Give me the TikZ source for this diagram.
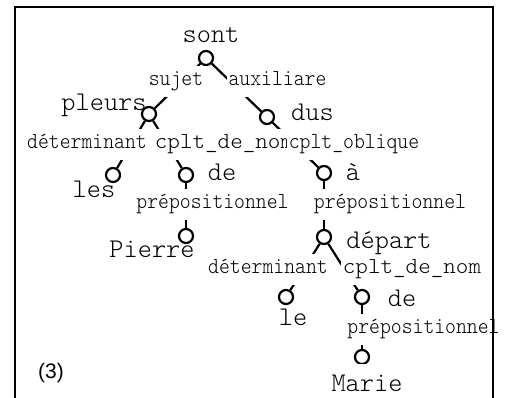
\documentclass[tikz,border=0pt]{standalone}
\usepackage{fontspec}
% light typewriter faces: words plain, relation labels slightly condensed
\newfontfamily\wordfont{lmmonolt10-regular.otf}
\newfontfamily\relfont{lmmonolt10-regular.otf}[FakeStretch=0.9]
\newfontfamily\widefont{lmmonolt10-regular.otf}[FakeStretch=1.04]
\newfontfamily\numfont{Liberation Sans}

\begin{document}
\begin{tikzpicture}[x=1pt,y=-1pt,
  word/.style={anchor=base, inner sep=0pt, font=\wordfont\fontsize{27}{27}\selectfont},
  rel/.style={anchor=base, fill=white, inner xsep=1.5pt, inner ysep=5pt,
              text height=15pt, text depth=6pt, font=\relfont\fontsize{23}{23}\selectfont},
  relwide/.style={rel, font=\widefont\fontsize{23}{23}\selectfont},
  knot/.style={circle, draw, line width=2.2pt, minimum size=14pt, inner sep=0pt},
  link/.style={line width=2.2pt},
  frame/.style={line width=2.5pt}]

\useasboundingbox (0,0) rectangle (509,398);

% one ring per word
\node[knot] (k-sont)   at (206,58)  {};
\node[knot] (k-pleurs) at (149,114) {};
\node[knot] (k-dus)    at (267,117) {};
\node[knot] (k-les)    at (113,175) {};
\node[knot] (k-de1)    at (186,175) {};
\node[knot] (k-a)      at (324,173) {};
\node[knot] (k-pierre) at (186,236) {};
\node[knot] (k-depart) at (324,237) {};
\node[knot] (k-le)     at (286,297) {};
\node[knot] (k-de2)    at (362,297) {};
\node[knot] (k-marie)  at (362,357) {};

% dependency links
\draw[link] (k-sont) -- (k-pleurs);
\draw[link] (k-sont) -- (k-dus);
\draw[link] (k-pleurs) -- (k-les);
\draw[link] (k-pleurs) -- (k-de1);
\draw[link] (k-dus) -- (k-a);
\draw[link] (k-de1) -- (k-pierre);
\draw[link] (k-a) -- (k-depart);
\draw[link] (k-depart) -- (k-le);
\draw[link] (k-depart) -- (k-de2);
\draw[link] (k-de2) -- (k-marie);

% relation labels, masking the middle of each link
\node[rel] (r-sujet) at (176,86)   {sujet};
\node[rel] (r-aux)   at (277.5,86) {auxiliare};
\node[rel] (r-det1)  at (87,149)   {déterminant};
\node[relwide] (r-cdn1) at (224,149) {cplt\_de\_nom};
\node[rel] (r-obl)   at (354,149)  {cplt\_oblique};
\node[rel] (r-prep1) at (212.5,209) {prépositionnel};
\node[rel] (r-prep2) at (390,209)  {prépositionnel};
\node[rel] (r-det2)  at (268,274)  {déterminant};
\node[relwide] (r-cdn2) at (412,274) {cplt\_de\_nom};
\node[rel] (r-prep3) at (423.5,334) {prépositionnel};

% words
\node[word] (w-sont)   at (211,43)  {sont};
\node[word] (w-pleurs) at (104,111) {pleurs};
\node[word] (w-dus)    at (312.5,121) {dus};
\node[word] (w-les)    at (94,198)  {les};
\node[word] (w-de1)    at (222,181) {de};
\node[word] (w-a)      at (353,181) {à};
\node[word] (w-pierre) at (152,258) {Pierre};
\node[word] (w-depart) at (389,249) {départ};
\node[word] (w-le)     at (293,326) {le};
\node[word] (w-de2)    at (402,306) {de};
\node[word, fill=white, inner xsep=4pt, inner ysep=11pt, text height=16pt] (w-marie) at (367,391) {Marie};

% example number
\node[anchor=base, inner sep=0pt, font=\numfont\fontsize{21}{21}\selectfont] (num) at (51,378) {(3)};

% open frame
\draw[frame] (15,398) -- (15,7) -- (493,7) -- (493,398);
\end{tikzpicture}
\end{document}
